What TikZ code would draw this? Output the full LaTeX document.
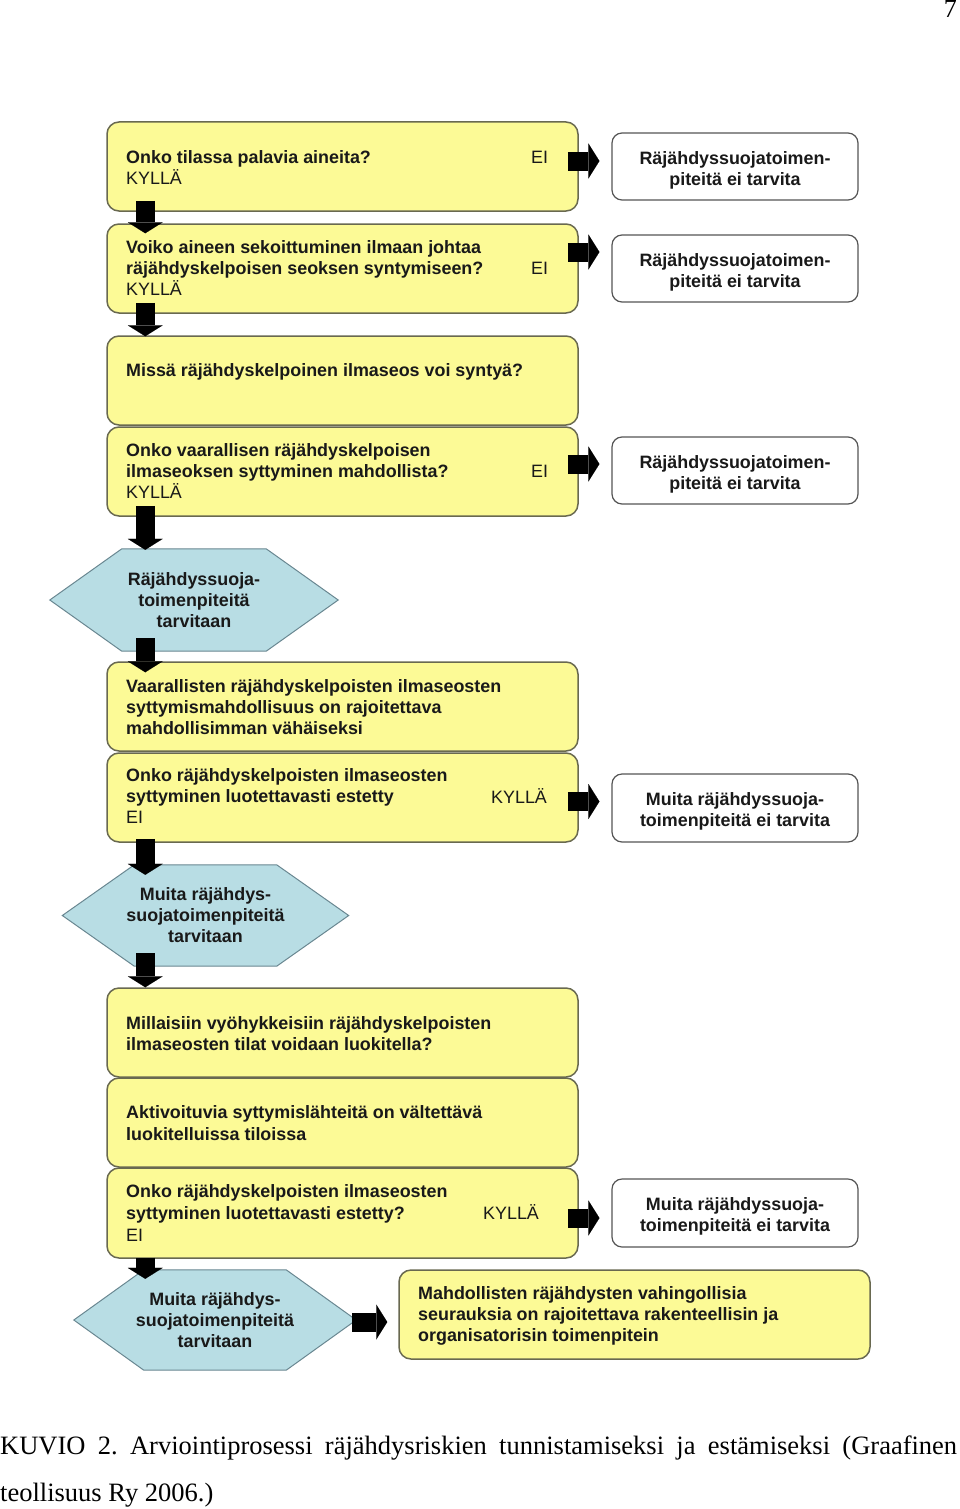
\documentclass[tikz,border=0pt]{standalone}
\usepackage{fontspec}
\setmainfont{Liberation Sans}
\newfontfamily\capfont{Liberation Serif}
\usetikzlibrary{arrows.meta,backgrounds}
\definecolor{yfill}{RGB}{252,250,150}
\definecolor{yedge}{RGB}{105,105,80}
\definecolor{hfill}{RGB}{184,221,228}
\definecolor{hedge}{RGB}{105,135,145}
\definecolor{wedge}{RGB}{85,85,85}
\definecolor{txt}{RGB}{25,25,25}
\begin{document}
\frenchspacing
\begin{tikzpicture}[x=1pt,y=-1pt,
  yellowbox/.style={draw=yedge, fill=yfill, line width=1.5pt, rounded corners=12pt,
    minimum width=471pt, minimum height=89pt, inner sep=0pt},
  whitebox/.style={draw=wedge, fill=white, line width=1.2pt, rounded corners=10pt,
    minimum width=246pt, minimum height=67pt, inner sep=0pt, align=center,
    font=\fontsize{17.9}{21}\selectfont\bfseries, text=txt},
  hexnode/.style={minimum height=102pt, inner sep=0pt, align=center,
    font=\fontsize{17.9}{21}\selectfont\bfseries, text=txt},
  hexshape/.style={draw=hedge, fill=hfill, line width=1pt},
  qtext/.style={anchor=north west, align=left, inner sep=0pt,
    font=\fontsize{17.9}{21}\selectfont\bfseries, text=txt},
  ans/.style={anchor=north west, inner sep=0pt,
    font=\fontsize{17.9}{21}\selectfont, text=txt},
  blockarrow/.style={draw=black, line width=19pt,
    -{Triangle[width=35pt,length=11pt,line width=0.01pt]}},
]
\useasboundingbox (0,0) rectangle (960,1509);

% page number
\node[anchor=base east, inner sep=0pt, font=\capfont\fontsize{26}{26}\selectfont] (pnum) at (957,18) {7};

% left column boxes
\node[yellowbox] (b1) at (342.5,166.5) {};
\node[yellowbox] (b2) at (342.5,268.5) {};
\node[yellowbox] (b3) at (342.5,380.5) {};
\node[yellowbox] (b4) at (342.5,471.5) {};
\node[yellowbox] (b5) at (342.5,706.5) {};
\node[yellowbox] (b6) at (342.5,797.5) {};
\node[yellowbox] (b7) at (342.5,1032.5) {};
\node[yellowbox] (b8) at (342.5,1122.5) {};
\node[yellowbox, minimum height=90pt] (b9) at (342.5,1213) {};
\node[yellowbox] (b10) at (634.5,1314.5) {};

% right column boxes
\node[whitebox] (r1) at (735,166.5) {\rule{0pt}{21pt}Räjähdyssuojatoimen-\\piteitä ei tarvita};
\node[whitebox] (r2) at (735,268.5) {\rule{0pt}{20pt}Räjähdyssuojatoimen-\\piteitä ei tarvita};
\node[whitebox] (r3) at (735,470.5) {\rule{0pt}{21pt}Räjähdyssuojatoimen-\\piteitä ei tarvita};
\node[whitebox, minimum height=68pt] (r4) at (735,808) {\rule{0pt}{19pt}Muita räjähdyssuoja-\\toimenpiteitä ei tarvita};
\node[whitebox, minimum height=68pt] (r5) at (735,1213) {\rule{0pt}{19pt}Muita räjähdyssuoja-\\toimenpiteitä ei tarvita};

% hexagons
\node[hexnode, minimum width=288pt] (h1) at (194,600) {Räjähdyssuoja-\\toimenpiteitä\\tarvitaan};
\node[hexnode, minimum width=286pt, minimum height=101pt] (h2) at (205.5,915.5) {Muita räjähdys-\\suojatoimenpiteitä\\tarvitaan};
\node[hexnode, minimum width=282pt, minimum height=100pt] (h3) at (215,1320) {Muita räjähdys-\\suojatoimenpiteitä\\tarvitaan};
\begin{scope}[on background layer]
  \foreach \h/\i in {h1/72pt, h2/72pt, h3/70pt}{
    \draw[hexshape] (\h.west) -- ([xshift=\i]\h.north west) -- ([xshift=-\i]\h.north east)
      -- (\h.east) -- ([xshift=-\i]\h.south east) -- ([xshift=\i]\h.south west) -- cycle;
  }
\end{scope}

% texts in yellow boxes
\node[qtext] (t1) at (126,147) {Onko tilassa palavia aineita?\rule{0pt}{16pt}\\\mdseries KYLLÄ};
\node[ans] (e1) at (531,147) {\rule{0pt}{16pt}EI};
\node[qtext] (t2) at (126,237) {\rule{0pt}{16pt}Voiko aineen sekoittuminen ilmaan johtaa\\räjähdyskelpoisen seoksen syntymiseen?\\\mdseries KYLLÄ};
\node[ans] (e2) at (531,258) {\rule{0pt}{16pt}EI};
\node[qtext] (t3) at (126,360) {\rule{0pt}{16pt}Missä räjähdyskelpoinen ilmaseos voi syntyä?};
\node[qtext] (t4) at (126,440) {\rule{0pt}{16pt}Onko vaarallisen räjähdyskelpoisen\\ilmaseoksen syttyminen mahdollista?\\\mdseries KYLLÄ};
\node[ans] (e4) at (531,461) {\rule{0pt}{16pt}EI};
\node[qtext] (t5) at (126,676) {\rule{0pt}{16pt}Vaarallisten räjähdyskelpoisten ilmaseosten\\syttymismahdollisuus on rajoitettava\\mahdollisimman vähäiseksi};
\node[qtext] (t6) at (126,765) {\rule{0pt}{16pt}Onko räjähdyskelpoisten ilmaseosten\\syttyminen luotettavasti estetty\\\mdseries EI};
\node[ans] (k6) at (491,787) {\rule{0pt}{16pt}KYLLÄ};
\node[qtext] (t7) at (126,1013) {\rule{0pt}{16pt}Millaisiin vyöhykkeisiin räjähdyskelpoisten\\ilmaseosten tilat voidaan luokitella?};
\node[qtext, font=\fontsize{17.9}{22}\selectfont\bfseries] (t8) at (126,1102) {\rule{0pt}{16pt}Aktivoituvia syttymislähteitä on vältettävä\\luokitelluissa tiloissa};
\node[qtext, font=\fontsize{17.9}{22}\selectfont\bfseries] (t9) at (126,1181) {\rule{0pt}{16pt}Onko räjähdyskelpoisten ilmaseosten\\syttyminen luotettavasti estetty?\\\mdseries EI};
\node[ans] (k9) at (483,1203) {\rule{0pt}{16pt}KYLLÄ};
\node[qtext] (t10) at (418,1283) {\rule{0pt}{16pt}Mahdollisten räjähdysten vahingollisia\\seurauksia on rajoitettava rakenteellisin ja\\organisatorisin toimenpitein};

% down arrows
\draw[blockarrow] ([xshift=39pt,yshift=11pt]b1.south west) -- ([xshift=39pt,yshift=-10pt]b2.north west);
\draw[blockarrow] ([xshift=39pt,yshift=11pt]b2.south west) -- ([xshift=39pt,yshift=-1pt]b3.north west);
\draw[blockarrow] ([xshift=39pt,yshift=11pt]b4.south west) -- ([xshift=39pt,yshift=-1pt]b4.south west |- h1.north);
\draw[blockarrow] ([xshift=39pt,yshift=13pt]b5.north west |- h1.south) -- ([xshift=39pt,yshift=-11pt]b5.north west);
\draw[blockarrow] ([xshift=39pt,yshift=4pt]b6.south west) -- ([xshift=39pt,yshift=-10pt]b6.south west |- h2.north);
\draw[blockarrow] ([xshift=39pt,yshift=13pt]b7.north west |- h2.south) -- ([xshift=39pt]b7.north west);
\draw[blockarrow] ([xshift=39pt,yshift=1pt]b9.south west) -- ([xshift=39pt,yshift=-9pt]b9.south west |- h3.north);

% right arrows
\draw[blockarrow] ([xshift=-11pt,yshift=5.5pt]b1.east) -- ([xshift=-12pt,yshift=5.5pt]r1.west);
\draw[blockarrow] ([xshift=-11pt,yshift=16.5pt]b2.east) -- ([xshift=-12pt,yshift=16.5pt]r2.west);
\draw[blockarrow] ([xshift=-11pt,yshift=7.5pt]b4.east) -- ([xshift=-12pt,yshift=6.5pt]r3.west);
\draw[blockarrow] ([xshift=-11pt,yshift=-4pt]b6.east) -- ([xshift=-12pt,yshift=6.5pt]r4.west);
\draw[blockarrow] ([xshift=-11pt,yshift=-5pt]b9.east) -- ([xshift=-12pt,yshift=-5pt]r5.west);
\draw[blockarrow] ([xshift=-4pt,yshift=-2pt]h3.east) -- ([xshift=-11pt,yshift=-7.5pt]b10.west);

% caption
\node[anchor=base west, inner sep=0pt, font=\capfont\fontsize{26.5}{30}\selectfont] (cap1) at (0,1454)
  {\makebox[957pt][s]{KUVIO 2. Arviointiprosessi räjähdysriskien tunnistamiseksi ja estämiseksi (Graafinen}};
\node[anchor=base west, inner sep=0pt, font=\capfont\fontsize{26.5}{30}\selectfont] (cap2) at (0,1501)
  {teollisuus Ry 2006.)};
\end{tikzpicture}
\end{document}
